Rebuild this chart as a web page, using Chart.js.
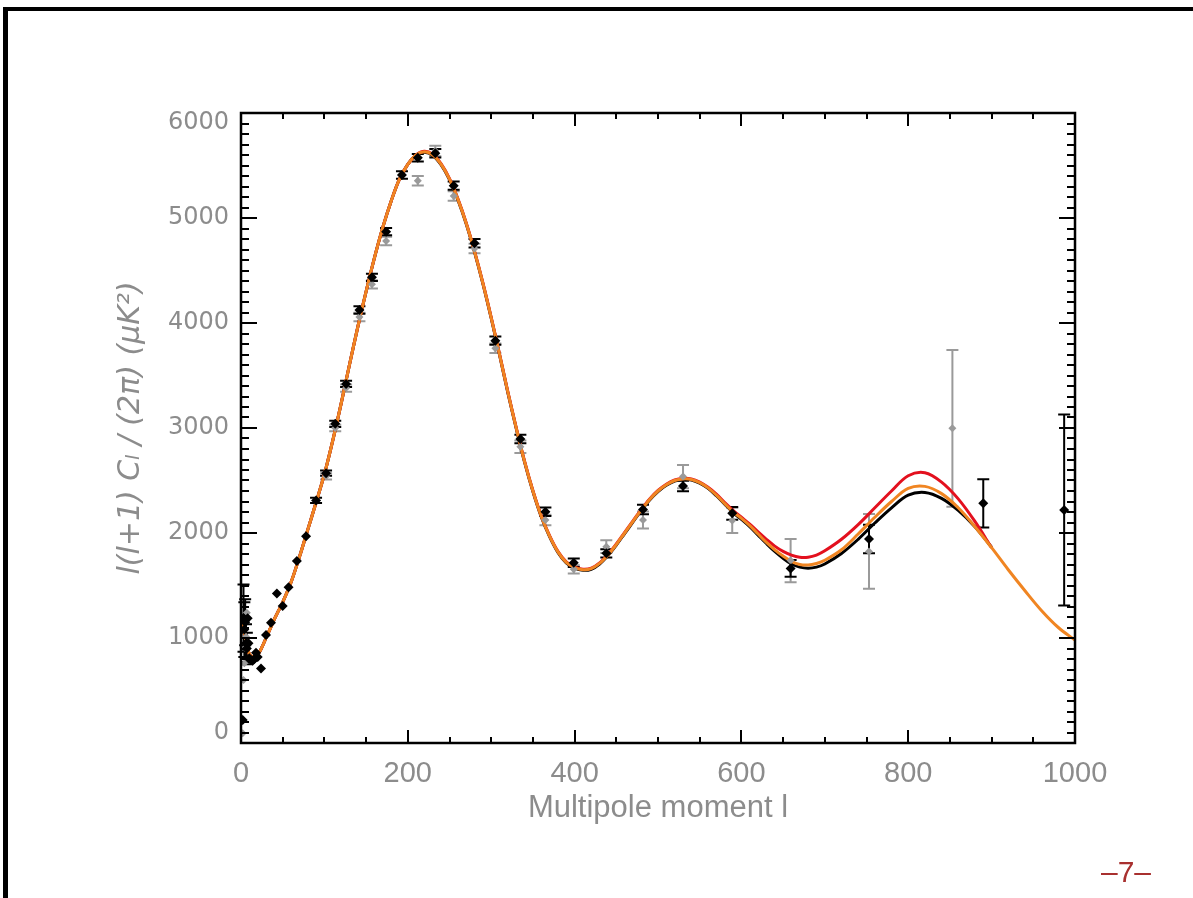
<!DOCTYPE html>
<html><head><meta charset="utf-8">
<script src="https://cdn.jsdelivr.net/npm/chart.js@4.4.1/dist/chart.umd.min.js"></script>
<style>
html,body{margin:0;padding:0;background:#fff;width:1193px;height:898px;overflow:hidden}
#frame{position:absolute;left:3px;top:7px;right:0;bottom:0;border-left:5px solid #000;border-top:4px solid #000}
#wrap{position:absolute;left:0;top:0;width:1193px;height:898px}
#page{position:absolute;left:1101px;top:857px;line-height:30px;color:#a8302f;font-size:30px;font-family:'Liberation Sans',sans-serif}
</style></head><body>
<div id="frame"></div>
<div id="wrap"><canvas id="c" width="1193" height="898"></canvas></div>
<div id="page">–7–</div>
<script>
// ---- theory curves (multipole l, D_l in microK^2) ----
const curveL = [2,4,6,8,10,12,15,20,25,30,35,40,45,50,60,70,80,90,100,110,120,130,140,150,160,170,180,190,200,210,220,230,240,250,260,270,280,290,300,310,320,330,340,350,360,370,380,390,400,410,420,430,440,450,460,470,480,490,500,510,520,530,540,550,560,570,580,590,600,610,620,630,640,650,660,670,680,690,700,720,740,760,780,800,820,840,860,880,900,920,940,960,980,1000];
const curveOrange = [1200,1060,960,890,850,830,820,840,910,1000,1090,1180,1260,1340,1530,1770,2030,2290,2560,2880,3230,3600,3960,4300,4620,4910,5160,5370,5510,5600,5630,5600,5510,5370,5180,4950,4680,4380,4050,3700,3340,3000,2680,2400,2160,1970,1820,1720,1670,1650,1660,1710,1790,1890,2000,2110,2220,2320,2400,2460,2500,2515,2510,2480,2430,2360,2280,2200,2140,2070,1990,1910,1840,1780,1730,1700,1695,1710,1740,1840,1990,2150,2300,2425,2444,2375,2240,2060,1860,1650,1450,1260,1100,980];
const curveRed = [1200,1060,960,890,850,830,820,840,910,1000,1090,1180,1260,1340,1530,1770,2030,2290,2560,2880,3230,3600,3960,4300,4620,4910,5160,5370,5510,5600,5635,5605,5515,5375,5185,4955,4685,4385,4055,3705,3345,3005,2685,2405,2165,1975,1825,1725,1675,1655,1665,1715,1795,1895,2005,2115,2225,2325,2405,2465,2505,2520,2515,2485,2435,2370,2290,2215,2150,2085,2010,1940,1875,1825,1790,1770,1770,1790,1830,1940,2080,2240,2400,2545,2574,2485,2325,2110,1860,null,null,null,null,null];
const curveBlack = [1200,1060,960,890,850,830,820,840,910,1000,1090,1180,1260,1340,1530,1770,2030,2290,2560,2880,3230,3600,3960,4300,4620,4910,5160,5370,5510,5600,5625,5595,5505,5365,5175,4945,4675,4375,4045,3695,3335,2995,2675,2395,2155,1965,1815,1715,1665,1645,1655,1705,1785,1885,1995,2105,2215,2315,2395,2455,2495,2510,2505,2475,2425,2355,2275,2195,2130,2060,1980,1900,1825,1760,1705,1675,1665,1675,1705,1805,1940,2095,2240,2360,2386,2330,2215,2060,1865,null,null,null,null,null];

// ---- measured band powers: black set ----
const blackL = [2,3,4,5,6,7,8,9,10,12,14,16,18,20,24,30,36,43,50,57,67,78,90,102,113,126,142,157,174,193,212,233,255,280,305,335,365,399,438,482,530,589,659,753,890,987];
const blackV = [220,1190,1080,1150,950,900,1187,950,806,790,783,800,860,820,710,1028,1146,1425,1305,1483,1733,1970,2310,2570,3040,3420,4124,4435,4870,5410,5574,5616,5308,4759,3832,2895,2203,1717,1806,2224,2448,2187,1663,1943,2283,2219];
const blackErr = [0,320,260,220,180,150,0,0,0,0,0,0,0,0,0,0,0,0,0,0,0,0,25,25,30,30,35,35,35,35,35,40,40,40,40,40,40,40,40,45,50,60,80,135,230,910];

// ---- measured band powers: grey set ----
const greyL = [2,3,4,5,6,7,102,113,126,142,157,174,212,233,255,280,305,335,365,399,438,482,530,589,659,753,853];
const greyV = [92,600,759,905,1012,1240,2540,3000,3380,4057,4368,4781,5355,5638,5210,4710,3760,2822,2124,1654,1870,2124,2537,2120,1737,1825,2997];
const greyErr = [0,0,0,0,0,0,30,30,35,40,40,40,45,50,45,45,45,60,50,40,60,80,110,120,205,355,747];

// ---- axes ----
const xTickStep = 200, yTickStep = 1000;
const xMax = 1000, yMax = 6000;

const pts = (xs, ys) => xs.map((x, i) => ({x, y: ys[i]})).filter(p => p.y !== null);

const errorBars = {
  id: 'errorBars',
  beforeDatasetsDraw(chart) {
    const {ctx, scales: {x, y}} = chart;
    const sets = [[greyL, greyV, greyErr, '#9a9a9a'], [blackL, blackV, blackErr, '#000']];
    ctx.save();
    ctx.lineWidth = 2;
    for (const [L, V, E, col] of sets) {
      ctx.strokeStyle = col;
      L.forEach((l, i) => {
        if (!E[i]) return;
        const px = x.getPixelForValue(l);
        const y1 = y.getPixelForValue(V[i] - E[i]);
        const y2 = y.getPixelForValue(V[i] + E[i]);
        ctx.beginPath();
        ctx.moveTo(px, y1); ctx.lineTo(px, y2);
        ctx.moveTo(px - 6, y1); ctx.lineTo(px + 6, y1);
        ctx.moveTo(px - 6, y2); ctx.lineTo(px + 6, y2);
        ctx.stroke();
      });
    }
    ctx.restore();
  }
};

const frameTicks = {
  id: 'frameTicks',
  afterDraw(chart) {
    const {ctx, chartArea: a, scales: {x, y}} = chart;
    ctx.save();
    ctx.strokeStyle = '#000';
    ctx.lineWidth = 2;
    ctx.beginPath();
    for (let v = 0; v <= xMax; v += 50) {
      const px = Math.round(x.getPixelForValue(v));
      const len = v % xTickStep === 0 ? 13 : 6;
      ctx.moveTo(px, a.bottom); ctx.lineTo(px, a.bottom - len);
      ctx.moveTo(px, a.top); ctx.lineTo(px, a.top + len);
    }
    for (let v = 0; v <= yMax; v += 100) {
      const py = Math.round(y.getPixelForValue(v));
      const len = v % yTickStep === 0 ? 16 : 8;
      ctx.moveTo(a.left, py); ctx.lineTo(a.left + len, py);
      ctx.moveTo(a.right, py); ctx.lineTo(a.right - len, py);
    }
    ctx.stroke();
    ctx.lineWidth = 2.5;
    ctx.strokeRect(a.left, a.top, a.right - a.left, a.bottom - a.top);
    ctx.restore();
  }
};

const curveStyle = {type: 'line', borderWidth: 3, pointRadius: 0, tension: 0.35};

new Chart(document.getElementById('c'), {
  type: 'scatter',
  data: {
    datasets: [
      {label: 'WMAP', data: pts(blackL, blackV), pointStyle: 'rectRot', pointRadius: 5, backgroundColor: '#000', borderColor: '#000', borderWidth: 0, order: 1},
      {label: 'Other', data: pts(greyL, greyV), pointStyle: 'rectRot', pointRadius: 4, backgroundColor: '#9a9a9a', borderColor: '#9a9a9a', borderWidth: 0, order: 2},
      {...curveStyle, label: 'Model orange', data: pts(curveL, curveOrange), borderColor: '#f08522', order: 3},
      {...curveStyle, label: 'Model red', data: pts(curveL, curveRed), borderColor: '#e3101e', order: 4},
      {...curveStyle, label: 'Model black', data: pts(curveL, curveBlack), borderColor: '#000', order: 5}
    ]
  },
  options: {
    responsive: false,
    animation: false,
    devicePixelRatio: 1,
    layout: {padding: {left: 0, top: 113, right: 118, bottom: 0}},
    plugins: {legend: {display: false}, tooltip: {enabled: false}},
    scales: {
      x: {
        type: 'linear', min: 0, max: xMax,
        grid: {display: false, drawTicks: false}, border: {display: false},
        ticks: {stepSize: xTickStep, color: '#8c8c8c', padding: 14, maxRotation: 0,
                font: {family: 'Liberation Sans', size: 29},
                callback: v => String(v)},
        title: {display: true, text: 'Multipole moment l', color: '#8c8c8c', font: {family: 'Liberation Sans', size: 31}, padding: {top: 0, bottom: 71}},
        afterFit(s) { s.height = 155; }
      },
      y: {
        type: 'linear', min: 0, max: yMax,
        grid: {display: false, drawTicks: false}, border: {display: false},
        ticks: {stepSize: yTickStep, color: '#8c8c8c', padding: 12,
                font: {family: 'DejaVu Sans', size: 24, lineHeight: 0.83},
                callback: v => v === yMax ? ['', String(v)] : (v === 0 ? [String(v), ''] : String(v))},
        title: {display: true, text: 'l(l+1) Cₗ / (2π) (μK²)', color: '#8c8c8c', font: {family: 'DejaVu Sans', size: 30, style: 'italic'}, padding: {top: 113, bottom: 0}},
        afterFit(s) { s.width = 241; }
      }
    }
  },
  plugins: [errorBars, frameTicks]
});
</script>
</body></html>
